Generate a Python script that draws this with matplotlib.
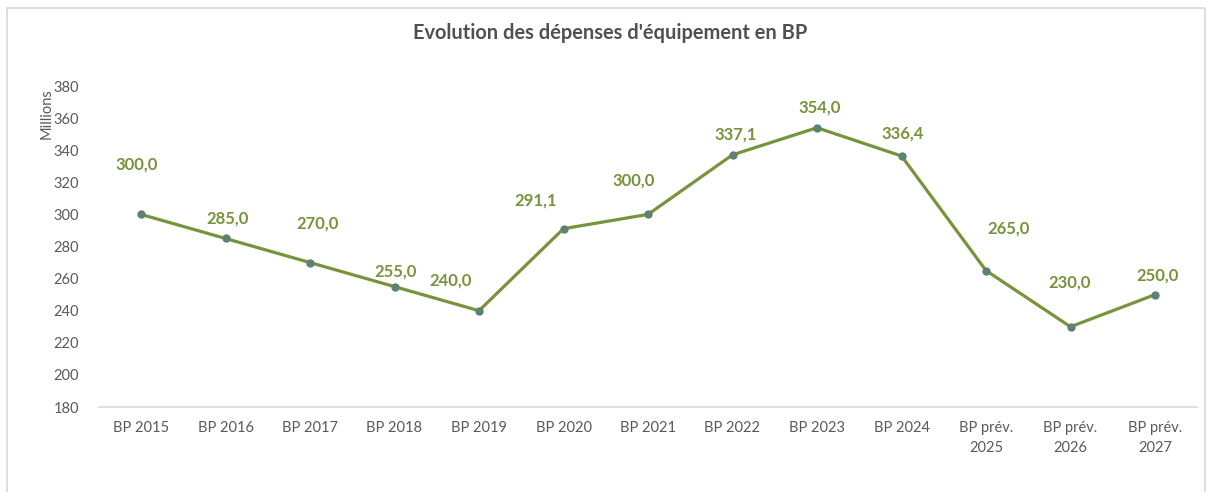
import matplotlib.pyplot as plt
from matplotlib.patches import Rectangle

categories = ["BP 2015", "BP 2016", "BP 2017", "BP 2018", "BP 2019", "BP 2020",
              "BP 2021", "BP 2022", "BP 2023", "BP 2024",
              "BP prév.\n2025", "BP prév.\n2026", "BP prév.\n2027"]
values = [300.0, 285.0, 270.0, 255.0, 240.0, 291.1, 300.0, 337.1, 354.0,
          336.4, 265.0, 230.0, 250.0]

# label offsets in pixels (dx, dy up)
label_offsets = [(-4, 50), (2, 20), (8, 39), (1, 15), (-28, 30), (-28, 28),
                 (-14, 34), (3, 20), (3, 20), (1, 22), (23, 42), (-1, 44), (3, 19)]

green = "#77933C"
grey = "#595959"
font = ["Lato", "DejaVu Sans"]
plt.rcParams['font.family'] = font

fig = plt.figure(figsize=(12.12, 4.92), dpi=100)
ax = fig.add_axes([98.75 / 1212, 85 / 492, 1098.5 / 1212, 321 / 492])

x = list(range(len(categories)))
ax.plot(x, values, color=green, lw=2.3, zorder=2)
ax.plot(x, values, 'o', color="#5E8272", ms=5, zorder=3)

for xi, v, (dx, dy) in zip(x, values, label_offsets):
    ax.annotate(f"{v:.1f}".replace(".", ","), (xi, v), xytext=(dx * 0.72, dy * 0.72),
                textcoords="offset points", ha="center", va="center",
                color=green, fontsize=12, fontweight="bold")

ax.set_xlim(-0.5, len(categories) - 0.5)
ax.set_ylim(180, 380)
ax.set_yticks(range(180, 381, 20))
ax.set_xticks(x)
ax.set_xticklabels(categories, linespacing=1.55)
ax.tick_params(axis="both", length=0, colors=grey, labelsize=10.5)
ax.tick_params(axis="x", pad=10)
ax.tick_params(axis="y", pad=14)
for s in ["top", "right", "left"]:
    ax.spines[s].set_visible(False)
ax.spines["bottom"].set_color("#D9D9D9")
ax.spines["bottom"].set_linewidth(1.2)

fig.text(47 / 1212, 1 - 114 / 492, "Millions", rotation=90, ha="center", va="center",
         color=grey, fontsize=10.5)
fig.text(610 / 1212, 1 - 33 / 492, "Evolution des dépenses d'équipement en BP",
         ha="center", va="center", color="#505050", fontsize=14.4, fontweight="bold")

fig.patches.append(Rectangle((7 / 1212, -0.02), 1198 / 1212, 1.02 - 8 / 492,
                             transform=fig.transFigure, fill=False,
                             edgecolor="#D9D9D9", lw=1.2))

fig.savefig("out.png", dpi=100)
